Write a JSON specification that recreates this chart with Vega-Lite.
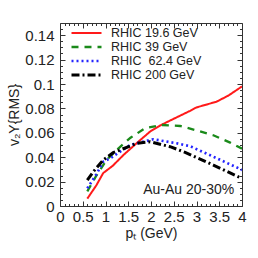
{
  "$schema": "https://vega.github.io/schema/vega-lite/v6.json",
  "autosize": "none",
  "width": 182,
  "height": 183,
  "padding": {"left": 60, "top": 23, "right": 16, "bottom": 52},
  "background": "white",
  "config": {
    "font": "Liberation Sans",
    "view": {"stroke": null},
    "axis": {"grid": false, "labelFont": "Liberation Sans", "titleFont": "Liberation Sans", "labelColor": "#222", "titleColor": "#222", "domainColor": "#333", "tickColor": "#333", "titleFontWeight": "normal"},
    "legend": {"orient": "top-left", "offset": 4, "padding": 0, "symbolOffset": 6, "symbolType": "stroke", "symbolSize": 900, "labelFontSize": 12.5, "labelFont": "Liberation Sans", "labelColor": "#222", "labelOffset": 8, "clipHeight": 12, "rowPadding": 1}
  },
  "data": {"values": [
    {"series": "RHIC 19.6 GeV", "pt": 0.6, "v": 0.006},
    {"series": "RHIC 19.6 GeV", "pt": 0.8, "v": 0.017},
    {"series": "RHIC 19.6 GeV", "pt": 0.95, "v": 0.027},
    {"series": "RHIC 19.6 GeV", "pt": 1.16, "v": 0.033},
    {"series": "RHIC 19.6 GeV", "pt": 1.4, "v": 0.042},
    {"series": "RHIC 19.6 GeV", "pt": 1.7, "v": 0.052},
    {"series": "RHIC 19.6 GeV", "pt": 1.98, "v": 0.061},
    {"series": "RHIC 19.6 GeV", "pt": 2.2, "v": 0.066},
    {"series": "RHIC 19.6 GeV", "pt": 2.5, "v": 0.0715},
    {"series": "RHIC 19.6 GeV", "pt": 2.86, "v": 0.078},
    {"series": "RHIC 19.6 GeV", "pt": 3.0, "v": 0.0808},
    {"series": "RHIC 19.6 GeV", "pt": 3.44, "v": 0.0855},
    {"series": "RHIC 19.6 GeV", "pt": 3.7, "v": 0.0905},
    {"series": "RHIC 19.6 GeV", "pt": 4.0, "v": 0.098},
    {"series": "RHIC 39 GeV", "pt": 0.6, "v": 0.012},
    {"series": "RHIC 39 GeV", "pt": 0.8, "v": 0.025},
    {"series": "RHIC 39 GeV", "pt": 1.03, "v": 0.038},
    {"series": "RHIC 39 GeV", "pt": 1.25, "v": 0.046},
    {"series": "RHIC 39 GeV", "pt": 1.55, "v": 0.056},
    {"series": "RHIC 39 GeV", "pt": 1.87, "v": 0.0637},
    {"series": "RHIC 39 GeV", "pt": 2.23, "v": 0.0664},
    {"series": "RHIC 39 GeV", "pt": 2.64, "v": 0.0656},
    {"series": "RHIC 39 GeV", "pt": 3.0, "v": 0.062},
    {"series": "RHIC 39 GeV", "pt": 3.37, "v": 0.058},
    {"series": "RHIC 39 GeV", "pt": 3.74, "v": 0.052},
    {"series": "RHIC 39 GeV", "pt": 4.0, "v": 0.047},
    {"series": "RHIC\u00a0 62.4 GeV", "pt": 0.6, "v": 0.0145},
    {"series": "RHIC\u00a0 62.4 GeV", "pt": 0.8, "v": 0.026},
    {"series": "RHIC\u00a0 62.4 GeV", "pt": 0.95, "v": 0.0363},
    {"series": "RHIC\u00a0 62.4 GeV", "pt": 1.1, "v": 0.039},
    {"series": "RHIC\u00a0 62.4 GeV", "pt": 1.54, "v": 0.05},
    {"series": "RHIC\u00a0 62.4 GeV", "pt": 2.05, "v": 0.0547},
    {"series": "RHIC\u00a0 62.4 GeV", "pt": 2.56, "v": 0.0514},
    {"series": "RHIC\u00a0 62.4 GeV", "pt": 2.86, "v": 0.049},
    {"series": "RHIC\u00a0 62.4 GeV", "pt": 3.37, "v": 0.0404},
    {"series": "RHIC\u00a0 62.4 GeV", "pt": 3.92, "v": 0.031},
    {"series": "RHIC\u00a0 62.4 GeV", "pt": 4.0, "v": 0.0295},
    {"series": "RHIC 200 GeV", "pt": 0.6, "v": 0.0213},
    {"series": "RHIC 200 GeV", "pt": 0.73, "v": 0.028},
    {"series": "RHIC 200 GeV", "pt": 0.95, "v": 0.0377},
    {"series": "RHIC 200 GeV", "pt": 1.17, "v": 0.0437},
    {"series": "RHIC 200 GeV", "pt": 1.69, "v": 0.0514},
    {"series": "RHIC 200 GeV", "pt": 1.98, "v": 0.0527},
    {"series": "RHIC 200 GeV", "pt": 2.42, "v": 0.0486},
    {"series": "RHIC 200 GeV", "pt": 2.75, "v": 0.044},
    {"series": "RHIC 200 GeV", "pt": 3.37, "v": 0.0336},
    {"series": "RHIC 200 GeV", "pt": 4.0, "v": 0.0225}
  ]},
  "resolve": {"axis": {"x": "independent", "y": "independent"}},
  "layer": [
    {
      "mark": {"type": "line", "clip": true},
      "encoding": {
        "x": {"field": "pt", "type": "quantitative", "scale": {"domain": [0, 4], "nice": false},
          "axis": {"orient": "bottom", "values": [0, 0.5, 1, 1.5, 2, 2.5, 3, 3.5, 4], "format": "~g", "labelFontSize": 15, "labelFlush": false, "labelPadding": 8, "tickSize": -5, "title": "pₜ (GeV)", "titleFontSize": 14, "titlePadding": 2}},
        "y": {"field": "v", "type": "quantitative", "scale": {"domain": [0, 0.15], "nice": false},
          "axis": {"orient": "left", "values": [0, 0.02, 0.04, 0.06, 0.08, 0.1, 0.12, 0.14], "format": "~g", "labelFontSize": 15, "labelPadding": 11, "tickSize": -5, "title": "v₂Y{RMS}", "titleFontSize": 14, "titlePadding": 3}},
        "color": {"field": "series", "type": "nominal", "title": null, "scale": {"domain": ["RHIC 19.6 GeV", "RHIC 39 GeV", "RHIC\u00a0 62.4 GeV", "RHIC 200 GeV"], "range": ["#ff1a1a", "#1a8a1a", "#2424ff", "#000000"]}},
        "strokeDash": {"field": "series", "type": "nominal", "title": null, "scale": {"domain": ["RHIC 19.6 GeV", "RHIC 39 GeV", "RHIC\u00a0 62.4 GeV", "RHIC 200 GeV"], "range": [[1, 0], [7, 6], [2, 3], [8, 3, 2, 3]]}},
        "strokeWidth": {"field": "series", "type": "nominal", "title": null, "scale": {"domain": ["RHIC 19.6 GeV", "RHIC 39 GeV", "RHIC\u00a0 62.4 GeV", "RHIC 200 GeV"], "range": [2, 3, 2.5, 3]}}
      }
    },
    {
      "mark": {"type": "point", "opacity": 0},
      "encoding": {
        "x": {"field": "pt", "type": "quantitative", "scale": {"domain": [0, 4], "nice": false},
          "axis": {"orient": "top", "values": [0, 0.5, 1, 1.5, 2, 2.5, 3, 3.5, 4], "labels": false, "tickSize": -5, "title": null}},
        "y": {"field": "v", "type": "quantitative", "scale": {"domain": [0, 0.15], "nice": false},
          "axis": {"orient": "right", "values": [0, 0.02, 0.04, 0.06, 0.08, 0.1, 0.12, 0.14], "labels": false, "tickSize": -5, "title": null}}
      }
    },
    {
      "mark": {"type": "point", "opacity": 0},
      "encoding": {
        "x": {"field": "pt", "type": "quantitative", "scale": {"domain": [0, 4], "nice": false},
          "axis": {"orient": "bottom", "values": [0.1,0.2,0.3,0.4,0.6,0.7,0.8,0.9,1.1,1.2,1.3,1.4,1.6,1.7,1.8,1.9,2.1,2.2,2.3,2.4,2.6,2.7,2.8,2.9,3.1,3.2,3.3,3.4,3.6,3.7,3.8,3.9], "labels": false, "domain": false, "tickSize": -2.5, "title": null}},
        "y": {"field": "v", "type": "quantitative", "scale": {"domain": [0, 0.15], "nice": false},
          "axis": {"orient": "left", "values": [0.005,0.01,0.015,0.025,0.03,0.035,0.045,0.05,0.055,0.065,0.07,0.075,0.085,0.09,0.095,0.105,0.11,0.115,0.125,0.13,0.135,0.145], "labels": false, "domain": false, "tickSize": -2.5, "title": null}}
      }
    },
    {
      "mark": {"type": "point", "opacity": 0},
      "encoding": {
        "x": {"field": "pt", "type": "quantitative", "scale": {"domain": [0, 4], "nice": false},
          "axis": {"orient": "top", "values": [0.1,0.2,0.3,0.4,0.6,0.7,0.8,0.9,1.1,1.2,1.3,1.4,1.6,1.7,1.8,1.9,2.1,2.2,2.3,2.4,2.6,2.7,2.8,2.9,3.1,3.2,3.3,3.4,3.6,3.7,3.8,3.9], "labels": false, "domain": false, "tickSize": -2.5, "title": null}},
        "y": {"field": "v", "type": "quantitative", "scale": {"domain": [0, 0.15], "nice": false},
          "axis": {"orient": "right", "values": [0.005,0.01,0.015,0.025,0.03,0.035,0.045,0.05,0.055,0.065,0.07,0.075,0.085,0.09,0.095,0.105,0.11,0.115,0.125,0.13,0.135,0.145], "labels": false, "domain": false, "tickSize": -2.5, "title": null}}
      }
    },
    {
      "data": {"values": [{"label": "Au-Au 20-30%", "pt": 2.83, "v": 0.0098}]},
      "mark": {"type": "text", "fontSize": 14, "font": "Liberation Sans", "color": "#222", "align": "center", "baseline": "alphabetic"},
      "encoding": {
        "x": {"field": "pt", "type": "quantitative", "axis": null},
        "y": {"field": "v", "type": "quantitative", "axis": null},
        "text": {"field": "label", "type": "nominal"}
      }
    }
  ]
}
